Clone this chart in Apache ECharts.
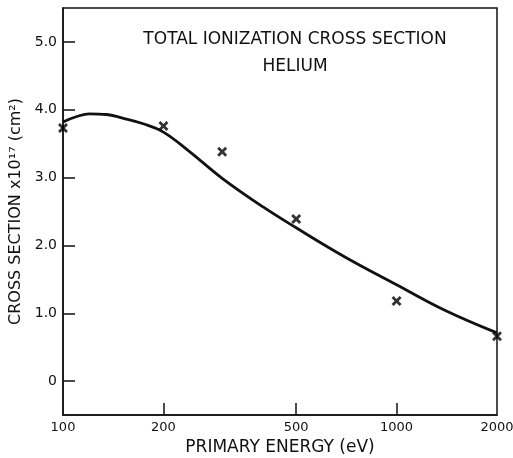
<!DOCTYPE html>
<html>
<head>
<meta charset="utf-8">
<script src="https://cdn.jsdelivr.net/npm/echarts@6/dist/echarts.min.js"></script>
<style>
  html, body { margin: 0; padding: 0; background: #fff; }
  #chart { width: 513px; height: 458px; }
</style>
</head>
<body>
<div id="chart"></div>
<script>
// measured points (x marks)
const measEnergy = [100, 200, 300, 500, 1000, 2000]
const measSigma = [3.73, 3.76, 3.38, 2.39, 1.18, 0.66]

// theory curve
const curveEnergy = [100, 110, 120, 135, 150, 175, 200, 240, 300, 400, 500, 700, 1000, 1400, 2000]
const curveSigma = [3.82, 3.90, 3.94, 3.93, 3.88, 3.79, 3.67, 3.38, 2.99, 2.56, 2.26, 1.83, 1.42, 1.04, 0.71]

const xTickLabels = [100, 200, 500, 1000, 2000]
const yTickLabels = [0, 1, 2, 3, 4, 5]

const FONT = 'DejaVu Sans'
const crossPath = 'path://M0,2L2,0L5,3L8,0L10,2L7,5L10,8L8,10L5,7L2,10L0,8L3,5Z'

var myChart = echarts.init(document.getElementById('chart'), null, { renderer: 'canvas' })

myChart.setOption({
  animation: false,
  backgroundColor: '#fff',
  title: {
    text: 'TOTAL IONIZATION CROSS SECTION\nHELIUM',
    left: 290,
    top: 21,
    textAlign: 'center',
    textStyle: {
      fontFamily: FONT,
      fontWeight: 'normal',
      fontSize: 17,
      lineHeight: 27,
      color: '#111'
    }
  },
  grid: {
    left: 63,
    right: 16,
    top: 8,
    bottom: 43,
    outerBoundsMode: 'none',
    show: true,
    borderColor: '#111',
    borderWidth: 1.5
  },
  xAxis: {
    type: 'log',
    logBase: 10,
    min: 100,
    max: 2000,
    name: 'PRIMARY ENERGY (eV)',
    nameLocation: 'middle',
    nameGap: 20,
    nameTextStyle: { fontFamily: FONT, fontSize: 17, color: '#111' },
    axisLine: { onZero: false, lineStyle: { color: '#111', width: 1.5 } },
    axisTick: { inside: true, length: 12, customValues: [200, 500, 1000], lineStyle: { color: '#111', width: 1.5 } },
    axisLabel: {
      customValues: xTickLabels,
      margin: 6,
      fontFamily: FONT,
      fontSize: 13,
      color: '#111',
      formatter: v => String(Math.round(v))
    },
    splitLine: { show: false },
    minorTick: { show: false }
  },
  yAxis: {
    type: 'value',
    min: -0.5,
    max: 5.5,
    name: 'CROSS SECTION x10¹⁷ (cm²)',
    nameLocation: 'middle',
    nameGap: 36,
    nameTextStyle: { fontFamily: FONT, fontSize: 16, color: '#111' },
    axisLine: { show: true, lineStyle: { color: '#111', width: 1.5 } },
    axisTick: { show: true, inside: true, length: 12, customValues: yTickLabels, lineStyle: { color: '#111', width: 1.5 } },
    axisLabel: {
      customValues: yTickLabels,
      margin: 6,
      fontFamily: FONT,
      fontSize: 14,
      color: '#111',
      formatter: v => v === 0 ? '0' : v.toFixed(1)
    },
    splitLine: { show: false }
  },
  series: [
    {
      name: 'curve',
      type: 'line',
      data: curveEnergy.map((e, i) => [e, curveSigma[i]]),
      smooth: 0.4,
      showSymbol: false,
      lineStyle: { color: '#111', width: 2.8 },
      clip: false
    },
    {
      name: 'measured',
      type: 'scatter',
      data: measEnergy.map((e, i) => [e, measSigma[i]]),
      symbol: crossPath,
      symbolSize: 10,
      itemStyle: { color: '#000' },
      clip: false
    }
  ]
})
</script>
</body>
</html>
